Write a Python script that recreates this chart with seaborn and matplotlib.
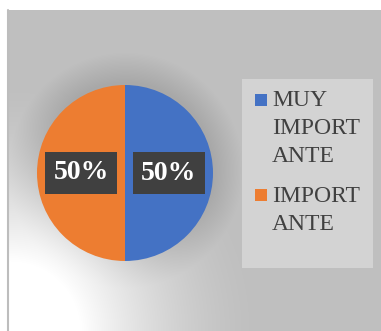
import numpy as np
import matplotlib
matplotlib.use("Agg")
import matplotlib.pyplot as plt
from matplotlib.patches import Rectangle
import seaborn as sns

categorias = ["MUY\nIMPORT\nANTE", "IMPORT\nANTE"]
valores = [50, 50]
colores = ["#4472c4", "#ed7d31"]

sns.set_theme(style="white")
plt.rcParams["font.family"] = ["Liberation Serif", "DejaVu Serif"]

W, H = 381, 331
fig = plt.figure(figsize=(W / 100, H / 100), dpi=100, facecolor="white")

# fondo con degradado (blanco abajo a la izquierda) y sombra del pastel
bg = fig.add_axes([8 / W, 0, 1 - 8 / W, (H - 10) / H])
bw, bh = W - 8, H - 10
xx, yy = np.meshgrid(np.arange(bw) + 8, np.arange(bh) + 10)
d = np.hypot(xx - 10, yy - 331)
t = np.clip(1 - (d - 70) / 180, 0, 1) ** 1.6
val = 0.75 + 0.25 * t
r = np.hypot(xx - 125, yy - 170)
sh = np.clip(1 - (r - 88) / 30, 0, 1) * (r > 80)
val = val - 0.09 * sh * (1 - t)
bg.imshow(np.dstack([val, val, val]), aspect="auto", extent=[0, 1, 0, 1])
bg.set_axis_off()
fig.add_artist(plt.Line2D([7.5 / W, 7.5 / W], [0, (H - 10) / H], color="#bdbdbd", lw=1.5))

ax = fig.add_axes([37 / W, 70 / H, 176 / W, 176 / H])
wedges, textos, auto = ax.pie(valores, colors=colores, startangle=90, counterclock=False,
                              autopct="%1.0f%%", pctdistance=0.5, radius=1,
                              wedgeprops=dict(linewidth=0))
for a in auto:
    a.set_color("white")
    a.set_fontsize(20)
    a.set_fontweight("bold")
    a.set_bbox(dict(boxstyle="square,pad=0.3", facecolor="#404040", edgecolor="none"))
ax.set_xlim(-1, 1)
ax.set_ylim(-1, 1)
ax.set_aspect("equal")
ax.set_axis_off()

# leyenda a la derecha, marcador alineado con la primera linea
fig.add_artist(Rectangle((242 / W, 1 - 268 / H), 131 / W, 189 / H,
                         transform=fig.transFigure, facecolor="#d3d3d3", edgecolor="none"))
primera = [107, 202]
ultima = [162, 230]
for lab, col, y1, y2 in zip(categorias, colores, primera, ultima):
    fig.add_artist(Rectangle((255 / W, 1 - (y1 - 1) / H), 12 / W, 12 / H,
                             transform=fig.transFigure, facecolor=col, edgecolor="none"))
    fig.text(272 / W, 1 - y2 / H, lab, fontsize=17, color="#404040",
             va="baseline", ha="left", linespacing=1.44)

fig.savefig("out.png", dpi=100, facecolor="white")
